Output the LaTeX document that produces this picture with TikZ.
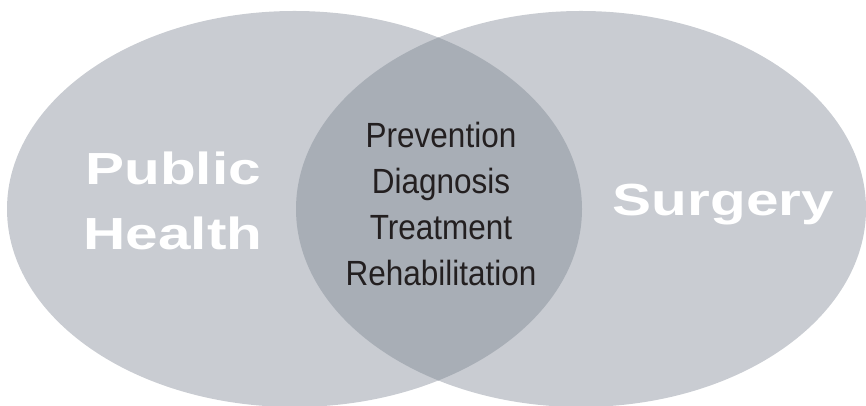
\documentclass[tikz,border=0pt]{standalone}
\usepackage{fontspec}
\setmainfont{Liberation Sans}
\newfontfamily\widebold[FakeStretch=1.3]{Liberation Sans Bold}
\newfontfamily\narrowfont[FakeStretch=0.9]{Liberation Sans}
\usepackage{xcolor}
\definecolor{setgray}{HTML}{C9CCD2}
\definecolor{lensgray}{HTML}{A8AEB6}
\definecolor{inktext}{HTML}{231F20}

\begin{document}
\begin{tikzpicture}[x=1pt, y=1pt]
        % ================= 样式定义 =================
        \tikzset{
            % 外圈集合:浅灰椭圆
            set_fill/.style={fill=setgray, draw=none},
            % 交集部分:深灰
            lens_fill/.style={fill=lensgray, draw=none},
            % 集合名称:白色粗体
            set_label/.style={text=white, inner sep=0pt, align=center, font=\widebold\fontsize{45}{65}\selectfont},
            % 交集内容:黑色细体
            lens_label/.style={text=inktext, inner sep=0pt, align=center, font=\narrowfont\fontsize{35}{46}\selectfont}
        }

        % 画布范围
        \useasboundingbox (0,0) rectangle (866,406);

        % ================= 两个集合 =================
        \coordinate (cl) at (294.5,197);
        \coordinate (cr) at (581,197);
        \fill[set_fill] (cl) ellipse [x radius=287.5, y radius=198];
        \fill[set_fill] (cr) ellipse [x radius=285, y radius=198];

        % 交集:用左椭圆裁剪右椭圆
        \begin{scope}
            \clip (cl) ellipse [x radius=287.5, y radius=198];
            \fill[lens_fill] (cr) ellipse [x radius=285, y radius=198];
        \end{scope}

        % ================= 文字 =================
        \node[set_label] (ph) at (173,205) {Public\\Health};
        \node[set_label, anchor=base] (sg) at (723.5,190) {Surgery};
        \node[lens_label] (core) at (441,202.5) {Prevention\\Diagnosis\\Treatment\\Rehabilitation};

\end{tikzpicture}
\end{document}
